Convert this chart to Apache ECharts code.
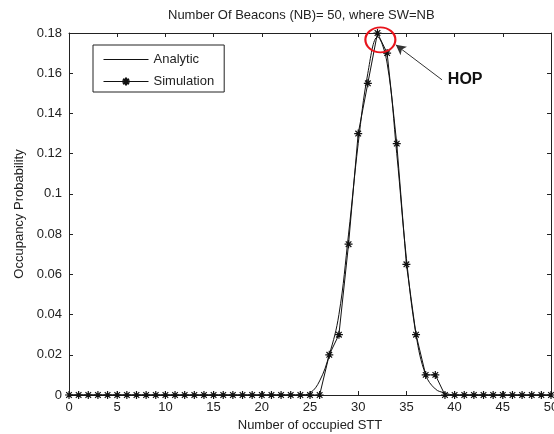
<!DOCTYPE html>
<html>
<head>
<meta charset="utf-8">
<script src="https://cdn.jsdelivr.net/npm/echarts@6/dist/echarts.min.js"></script>
<style>html,body{margin:0;padding:0;background:#fff}#c{width:554px;height:434px}</style>
</head>
<body>
<div id="c"></div>
<script>
// ---- data ----
const xValues = [0,1,2,3,4,5,6,7,8,9,10,11,12,13,14,15,16,17,18,19,20,21,22,23,24,25,26,27,28,29,30,31,32,33,34,35,36,37,38,39,40,41,42,43,44,45,46,47,48,49,50];
const analytic = [0,0,0,0,0,0,0,0,0,0,0,0,0,0,0,0,0,0,0,0,0,0,0,0,0,0.001,0.007,0.02,0.04,0.08,0.125,0.16,0.178,0.165,0.12,0.068,0.03,0.01,0.003,0.001,0,0,0,0,0,0,0,0,0,0,0];
const simulation = [0,0,0,0,0,0,0,0,0,0,0,0,0,0,0,0,0,0,0,0,0,0,0,0,0,0,0,0.02,0.03,0.075,0.13,0.155,0.18,0.17,0.125,0.065,0.03,0.01,0.01,0,0,0,0,0,0,0,0,0,0,0,0];
const xTicks = [0,5,10,15,20,25,30,35,40,45,50];
const yTicks = [0,0.02,0.04,0.06,0.08,0.1,0.12,0.14,0.16,0.18];
const titleText = 'Number Of Beacons (NB)= 50, where SW=NB';
const xName = 'Number of occupied STT';
const yName = 'Occupancy Probability';
const hopPeak = [32.3, 0.1766];
const hopArrowFrom = [38.7, 0.1567];
const hopArrowTo = [33.9, 0.1741];
const hopLabelAt = [41.1, 0.1567];

const FONT = 'Liberation Sans, Arial, sans-serif';
const star = 'path://M0 5 L10 5 M5 0 L5 10 M1.5 1.5 L8.5 8.5 M8.5 1.5 L1.5 8.5';

const chart = echarts.init(document.getElementById('c'), null, {renderer:'canvas'});
const axisCommon = {
  axisLine:{show:true, onZero:false, lineStyle:{color:'#222', width:1}},
  axisTick:{show:true, inside:true, length:4, lineStyle:{color:'#222'}},
  splitLine:{show:false}
};
chart.setOption({
  animation:false,
  backgroundColor:'#fff',
  title:{text:titleText, left:163, top:4, textStyle:{fontFamily:FONT, fontSize:13, fontWeight:'normal', color:'#222'}},
  grid:{left:69, right:3, top:33, bottom:39, containLabel:false, outerBoundsMode:'none'},
  legend:{
    orient:'vertical', left:93, top:45,
    data:[{name:'Analytic', itemStyle:{opacity:0}, lineStyle:{width:1}}, {name:'Simulation', lineStyle:{width:1}}],
    itemWidth:45, itemHeight:10, itemGap:9,
    padding:[8,10,4,10],
    borderColor:'#222', borderWidth:1, backgroundColor:'#fff',
    textStyle:{fontFamily:FONT, fontSize:13, color:'#222'}
  },
  xAxis:[
    Object.assign({type:'value', min:0, max:50, interval:5, position:'bottom',
      name:xName, nameLocation:'middle', nameGap:24,
      nameTextStyle:{fontFamily:FONT, fontSize:13, color:'#222'},
      axisLabel:{fontFamily:FONT, fontSize:13, color:'#222', margin:6,
        customValues: xTicks}}, axisCommon),
    Object.assign({type:'value', min:0, max:50, interval:5, position:'top', axisLabel:{show:false}}, axisCommon)
  ],
  yAxis:[
    Object.assign({type:'value', min:0, max:0.18, interval:0.02, position:'left',
      name:yName, nameLocation:'middle', nameGap:39,
      nameTextStyle:{fontFamily:FONT, fontSize:13, color:'#222'},
      axisLabel:{fontFamily:FONT, fontSize:13, color:'#222', margin:7,
        formatter:v=>String(+v.toFixed(2))}}, axisCommon),
    Object.assign({type:'value', min:0, max:0.18, interval:0.02, position:'right', axisLabel:{show:false}}, axisCommon)
  ],
  series:[
    {name:'Analytic', type:'line', smooth:0.4, symbol:'none',
     data:xValues.map((x,i)=>[x, analytic[i]]),
     lineStyle:{color:'#111', width:1}, itemStyle:{color:'#111'}, z:2},
    {name:'Simulation', type:'line', symbol:star, symbolSize:8, showAllSymbol:true,
     data:xValues.map((x,i)=>[x, simulation[i]]),
     lineStyle:{color:'#111', width:1},
     itemStyle:{color:'#111', borderColor:'#111', borderWidth:1.2}, z:3,
     markLine:{silent:true, symbol:['none','arrow'], symbolSize:[8,10],
       label:{show:false},
       lineStyle:{color:'#333', width:1, type:'solid'},
       data:[[{coord:hopArrowFrom},{coord:hopArrowTo}]]},
     markPoint:{silent:true,
       data:[
         {coord:hopPeak, symbol:'circle', symbolSize:[30,25],
          itemStyle:{color:'rgba(0,0,0,0)', borderColor:'#e8141c', borderWidth:2},
          label:{show:false}},
         {coord:hopLabelAt, symbol:'rect', symbolSize:[40,16],
          itemStyle:{color:'rgba(0,0,0,0)', borderWidth:0},
          label:{show:true, position:'inside', formatter:'HOP', fontFamily:FONT, fontSize:16, fontWeight:'bold', color:'#111'}}
       ]}
    }
  ]
});
</script>
</body>
</html>
